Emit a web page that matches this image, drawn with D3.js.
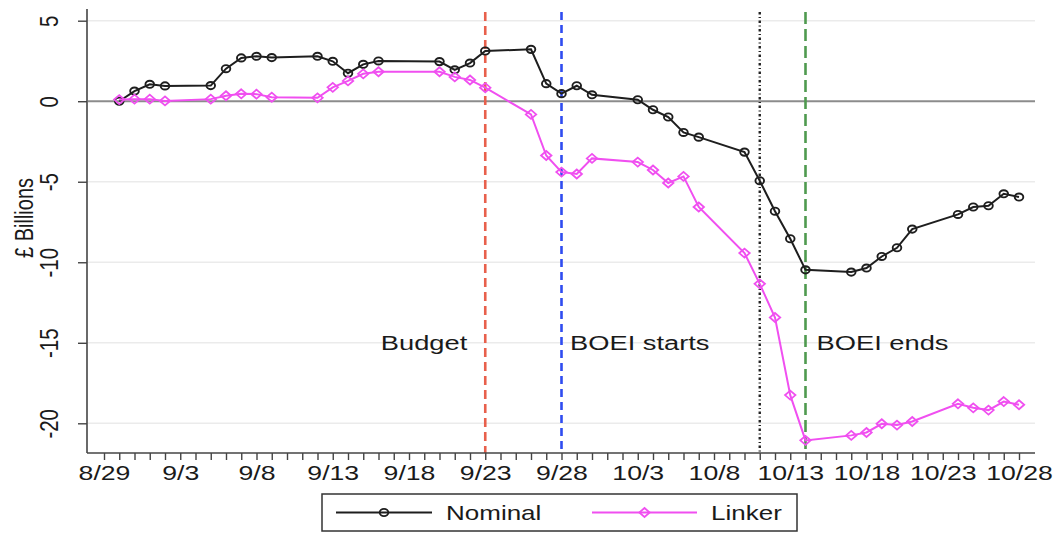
<!DOCTYPE html>
<html>
<head>
<meta charset="utf-8">
<script src="https://cdn.jsdelivr.net/npm/d3@7"></script>
<style>
  body { margin: 0; background: #fff; }
  svg { font-family: "Liberation Sans", Arial, sans-serif; }
</style>
</head>
<body>
<svg id="chart" width="1057" height="535"></svg>
<script>
// trading days (UK), 2022
const dates = [
  "2022-08-30", "2022-08-31", "2022-09-01", "2022-09-02",
  "2022-09-05", "2022-09-06", "2022-09-07", "2022-09-08", "2022-09-09",
  "2022-09-12", "2022-09-13", "2022-09-14", "2022-09-15", "2022-09-16",
  "2022-09-20", "2022-09-21", "2022-09-22", "2022-09-23",
  "2022-09-26", "2022-09-27", "2022-09-28", "2022-09-29", "2022-09-30",
  "2022-10-03", "2022-10-04", "2022-10-05", "2022-10-06", "2022-10-07",
  "2022-10-10", "2022-10-11", "2022-10-12", "2022-10-13", "2022-10-14",
  "2022-10-17", "2022-10-18", "2022-10-19", "2022-10-20", "2022-10-21",
  "2022-10-24", "2022-10-25", "2022-10-26", "2022-10-27", "2022-10-28"
];

const nominal = [
  0.0, 0.63, 1.05, 0.95,
  0.97, 2.02, 2.69, 2.79, 2.71,
  2.79, 2.48, 1.74, 2.29, 2.5,
  2.46, 1.95, 2.37, 3.12,
  3.22, 1.09, 0.47, 0.96, 0.40,
  0.09, -0.53, -0.98, -1.94, -2.23,
  -3.16, -4.94, -6.83, -8.54, -10.47,
  -10.61, -10.36, -9.64, -9.1, -7.94,
  -7.03, -6.57, -6.49, -5.75, -5.95
];

const linker = [
  0.1, 0.13, 0.13, 0.02,
  0.13, 0.34, 0.46, 0.44, 0.25,
  0.21, 0.86, 1.26, 1.7, 1.83,
  1.83, 1.51, 1.32, 0.84,
  -0.82, -3.37, -4.4, -4.52, -3.55,
  -3.78, -4.27, -5.08, -4.67, -6.57,
  -9.43, -11.34, -13.43, -18.25, -21.06,
  -20.75, -20.57, -20.03, -20.11, -19.89,
  -18.79, -19.04, -19.18, -18.65, -18.85
];

const xTickLabels = ["8/29", "9/3", "9/8", "9/13", "9/18", "9/23", "9/28", "10/3", "10/8", "10/13", "10/18", "10/23", "10/28"];
const yTicks = [5, 0, -5, -10, -15, -20];

const eventDates = ["2022-09-23", "2022-09-28", "2022-10-11", "2022-10-14"];
const eventColors = ["#e8604c", "#2f4cf0", "#222222", "#4f9a4f"];
const eventDashes = ["9,5", "8,5", "2.5,2.5,1,2.5", "12,5"];

const eventLabels = ["Budget", "BOEI starts", "BOEI ends"];
const eventLabelDates = ["2022-09-23", "2022-09-28", "2022-10-14"];

const seriesNames = ["Nominal", "Linker"];
const seriesColors = ["#1e1e1e", "#f04ff0"];

const parseDate = d3.timeParse("%Y-%m-%d");
const SX = 1.3; // the picture is stretched sideways, text too

const svg = d3.select("#chart");

const plotLeft = 87, plotRight = 1035, plotTop = 9, plotBottom = 453;

const x = d3.scaleTime()
  .domain([parseDate("2022-08-29"), parseDate("2022-10-28")])
  .range([104, 1019]);

const y = d3.scaleLinear()
  .domain([-20, 5])
  .range([423.3, 20.7]);

// grid lines
svg.append("g")
  .selectAll("line")
  .data(yTicks.filter(d => d !== 0))
  .enter()
  .append("line")
  .attr("x1", plotLeft + 1)
  .attr("x2", plotRight)
  .attr("y1", d => y(d))
  .attr("y2", d => y(d))
  .attr("stroke", "#ebebeb")
  .attr("stroke-width", 1.5);

// zero line
svg.append("line")
  .attr("x1", plotLeft + 1)
  .attr("x2", plotRight)
  .attr("y1", y(0))
  .attr("y2", y(0))
  .attr("stroke", "#8c8c8c")
  .attr("stroke-width", 2);

// event lines
svg.append("g")
  .selectAll("line")
  .data(eventDates)
  .enter()
  .append("line")
  .attr("x1", d => x(parseDate(d)))
  .attr("x2", d => x(parseDate(d)))
  .attr("y1", 12)
  .attr("y2", plotBottom)
  .attr("stroke", (d, i) => eventColors[i])
  .attr("stroke-width", (d, i) => (i === 2 ? 2.4 : 2.6))
  .attr("stroke-dasharray", (d, i) => eventDashes[i]);

// event labels
svg.append("g")
  .selectAll("text")
  .data(eventLabels)
  .enter()
  .append("text")
  .attr("transform", (d, i) => {
    const xx = x(parseDate(eventLabelDates[i])) + (i === 0 ? -18 : i === 1 ? 8.5 : 11);
    return `translate(${xx},${y(-15)}) scale(${SX},1)`;
  })
  .attr("text-anchor", (d, i) => (i === 0 ? "end" : "start"))
  .attr("dy", "0.36em")
  .attr("font-size", 21)
  .attr("fill", "#1a1a1a")
  .text(d => d);

// axes
const yAxis = svg.append("g")
  .attr("transform", `translate(${plotLeft},0)`)
  .call(d3.axisLeft(y).tickValues(yTicks).tickSize(9).tickFormat(d3.format("d")));
yAxis.select(".domain").remove();
yAxis.selectAll(".tick line").attr("stroke", "#444").attr("stroke-width", 1.4);
yAxis.selectAll(".tick text")
  .attr("x", null)
  .attr("dy", null)
  .attr("text-anchor", "middle")
  .attr("transform", `translate(-29.5,0) scale(${SX},1) rotate(-90)`)
  .attr("font-size", 20.5)
  .attr("font-family", "Liberation Sans, Arial, sans-serif")
  .attr("fill", "#1a1a1a")
  .text(d => (d < 0 ? "-" + Math.abs(d) : d));

svg.append("line")
  .attr("x1", plotLeft)
  .attr("x2", plotLeft)
  .attr("y1", plotTop)
  .attr("y2", plotBottom)
  .attr("stroke", "#444")
  .attr("stroke-width", 1.6);

svg.append("text")
  .attr("transform", `translate(33,218) scale(${SX},1) rotate(-90)`)
  .attr("text-anchor", "middle")
  .attr("font-size", 20)
  .attr("fill", "#1a1a1a")
  .text("£ Billions");

const labelSet = new Set(xTickLabels);
const fmtMD = d => (d.getMonth() + 1) + "/" + d.getDate();
const xAxis = svg.append("g")
  .attr("transform", `translate(0,${plotBottom})`)
  .call(d3.axisBottom(x)
    .ticks(d3.timeDay.every(1))
    .tickSize(7)
    .tickFormat(d => (labelSet.has(fmtMD(d)) ? fmtMD(d) : "")));
xAxis.select(".domain").remove();
xAxis.selectAll(".tick line").attr("stroke", "#444").attr("stroke-width", 1.4);
xAxis.selectAll(".tick text")
  .attr("y", null)
  .attr("dy", null)
  .attr("transform", `translate(0,26.5) scale(${SX},1)`)
  .attr("font-size", 20.5)
  .attr("font-family", "Liberation Sans, Arial, sans-serif")
  .attr("fill", "#1a1a1a");

svg.append("line")
  .attr("x1", plotLeft)
  .attr("x2", plotRight)
  .attr("y1", plotBottom)
  .attr("y2", plotBottom)
  .attr("stroke", "#444")
  .attr("stroke-width", 1.6);

// series
const diamond = (cx, cy) => `M${cx},${cy - 4.5}L${cx + 5.2},${cy}L${cx},${cy + 4.5}L${cx - 5.2},${cy}Z`;

const series = [nominal, linker];
series.forEach((vals, s) => {
  const pts = dates.map((d, i) => ({ date: parseDate(d), value: vals[i] }));
  const line = d3.line().x(d => x(d.date)).y(d => y(d.value));
  svg.append("path")
    .datum(pts)
    .attr("d", line)
    .attr("fill", "none")
    .attr("stroke", seriesColors[s])
    .attr("stroke-width", 2);

  if (s === 0) {
    svg.append("g")
      .selectAll("ellipse")
      .data(pts)
      .enter()
      .append("ellipse")
      .attr("cx", d => x(d.date))
      .attr("cy", d => y(d.value))
      .attr("rx", 4.3)
      .attr("ry", 3.6)
      .attr("fill", "none")
      .attr("stroke", seriesColors[s])
      .attr("stroke-width", 1.9);
  } else {
    svg.append("g")
      .selectAll("path")
      .data(pts)
      .enter()
      .append("path")
      .attr("d", d => diamond(x(d.date), y(d.value)))
      .attr("fill", "none")
      .attr("stroke", seriesColors[s])
      .attr("stroke-width", 1.8);
  }
});

// legend
const legend = svg.append("g");
legend.append("rect")
  .attr("x", 322)
  .attr("y", 494)
  .attr("width", 475)
  .attr("height", 37)
  .attr("fill", "#fff")
  .attr("stroke", "#333")
  .attr("stroke-width", 1.5);

const legendX = [336, 592];
const legendW = [96, 105];
seriesNames.forEach((name, i) => {
  const x0 = legendX[i], cx = x0 + legendW[i] / 2, cy = 512.5;
  legend.append("line")
    .attr("x1", x0).attr("x2", x0 + legendW[i])
    .attr("y1", cy).attr("y2", cy)
    .attr("stroke", seriesColors[i])
    .attr("stroke-width", 2);
  if (i === 0) {
    legend.append("ellipse")
      .attr("cx", cx).attr("cy", cy).attr("rx", 4.3).attr("ry", 3.6)
      .attr("fill", "none").attr("stroke", seriesColors[i]).attr("stroke-width", 1.9);
  } else {
    legend.append("path")
      .attr("d", diamond(cx, cy))
      .attr("fill", "none").attr("stroke", seriesColors[i]).attr("stroke-width", 1.8);
  }
  legend.append("text")
    .attr("transform", `translate(${x0 + legendW[i] + 14},${cy}) scale(${SX},1)`)
    .attr("dy", "0.36em")
    .attr("font-size", 20)
    .attr("fill", "#1a1a1a")
    .text(name);
});
</script>
</body>
</html>
